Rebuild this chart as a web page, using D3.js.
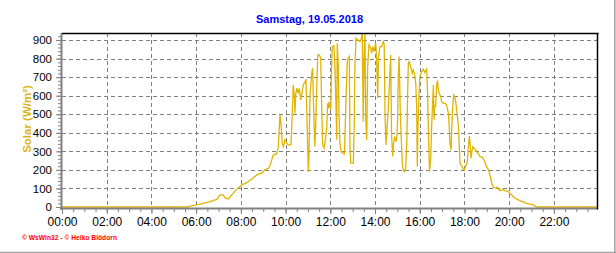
<!DOCTYPE html>
<html>
<head>
<meta charset="utf-8">
<script src="https://cdn.jsdelivr.net/npm/d3@7"></script>
<style>
  body { margin: 0; background: #fff; }
  svg { display: block; }
</style>
</head>
<body>
<div id="chart"></div>
<script>
var title = "Samstag, 19.05.2018";
var yLabel = "Solar (W/m²)";
var footer = "© WsWin32 - © Heiko Blödorn";
var hourTicks = [0, 2, 4, 6, 8, 10, 12, 14, 16, 18, 20, 22];
var hourLabels = ["00:00", "02:00", "04:00", "06:00", "08:00", "10:00", "12:00", "14:00", "16:00", "18:00", "20:00", "22:00"];
var yTicks = [0, 100, 200, 300, 400, 500, 600, 700, 800, 900];

// time of day in hours, solar radiation in W/m²
var times = [
  0, 5.68, 5.72, 5.95, 6.32, 6.62, 6.92, 7.07, 7.21, 7.29, 7.44, 7.59, 7.81,
  8.04, 8.26, 8.48, 8.71, 8.93, 9.08, 9.23, 9.30, 9.45, 9.60, 9.67, 9.75, 9.79, 9.85, 9.90, 9.97,
  10.05, 10.12, 10.24, 10.27, 10.32, 10.34, 10.39, 10.42, 10.45, 10.50, 10.57, 10.61, 10.68, 10.72, 10.79, 10.87, 10.91, 10.94, 10.99,
  11.02, 11.05, 11.09, 11.14, 11.18, 11.21, 11.24, 11.28, 11.31, 11.35, 11.39, 11.44, 11.51, 11.57, 11.61, 11.66, 11.72, 11.78, 11.84, 11.88, 11.93, 11.95,
  12.02, 12.06, 12.09, 12.16, 12.21, 12.25, 12.29, 12.31, 12.36, 12.39, 12.43, 12.48, 12.55, 12.63, 12.66, 12.70, 12.76, 12.85, 12.88, 12.92,
  13.03, 13.07, 13.10, 13.15, 13.22, 13.33, 13.37, 13.43, 13.47, 13.51, 13.55, 13.58, 13.63, 13.67, 13.73, 13.81, 13.85, 13.90, 13.95,
  14.03, 14.07, 14.12, 14.15, 14.22, 14.30, 14.37, 14.41, 14.45, 14.49, 14.53, 14.59, 14.64, 14.70, 14.74, 14.79, 14.83, 14.89, 14.94, 14.98,
  15.01, 15.04, 15.08, 15.13, 15.17, 15.22, 15.26, 15.31, 15.37, 15.42, 15.46, 15.49, 15.53, 15.61, 15.67, 15.71, 15.76, 15.82, 15.86, 15.89, 15.92, 15.97,
  16.01, 16.09, 16.16, 16.23, 16.31, 16.35, 16.40, 16.44, 16.49, 16.53, 16.58, 16.61, 16.64, 16.67, 16.71, 16.76, 16.80, 16.83, 16.87, 16.94, 16.98,
  17.05, 17.13, 17.20, 17.28, 17.32, 17.35, 17.40, 17.43, 17.47, 17.52, 17.56, 17.61, 17.65, 17.70, 17.74, 17.77, 17.80, 17.88, 17.95, 17.99,
  18.05, 18.13, 18.17, 18.22, 18.25, 18.29, 18.32, 18.37, 18.43, 18.52, 18.62, 18.69, 18.80, 18.89, 18.96,
  19.07, 19.14, 19.22, 19.29, 19.41, 19.47, 19.54, 19.59, 19.71, 19.81, 19.96,
  20.11, 20.26, 20.48, 20.78, 21.08, 21.23, 23.92
];
var solar = [
  0, 0, 5, 10, 20, 29, 41, 65, 65, 50, 43, 65, 95,
  119, 131, 150, 173, 182, 200, 209, 222, 281, 286, 317, 497, 460, 344, 325, 362,
  344, 335, 335, 416, 577, 658, 604, 506, 604, 640, 613, 640, 577, 604, 658, 676, 689, 558, 308,
  190, 298, 604, 676, 730, 748, 595, 433, 325, 452, 631, 820, 820, 802, 568, 335, 317, 362, 425, 558, 532, 568,
  523, 775, 865, 870, 748, 568, 362, 883, 748, 497, 344, 298, 290, 286, 406, 568, 793, 811, 308, 236,
  236, 452, 757, 910, 901, 892, 901, 934, 460, 811, 934, 497, 362, 757, 874, 856, 829, 865, 838,
  883, 802, 586, 802, 865, 865, 892, 874, 487, 335, 416, 523, 649, 820, 389, 272, 344, 379, 352, 379,
  470, 703, 811, 506, 379, 236, 200, 190, 209, 344, 622, 775, 784, 748, 721, 739, 721, 667, 550, 218, 433, 613,
  703, 730, 743, 725, 743, 613, 344, 190, 263, 425, 577, 658, 470, 550, 540, 667, 676, 631, 613, 595, 568,
  559, 559, 550, 506, 433, 344, 308, 416, 532, 604, 595, 568, 523, 470, 416, 325, 236, 221, 203, 200,
  218, 245, 317, 383, 344, 263, 290, 325, 317, 304, 286, 272, 268, 250, 227,
  200, 173, 128, 106, 101, 108, 92, 88, 95, 88, 83,
  65, 47, 34, 20, 11, 0, 0
];

var svgWidth = 616;
var svgHeight = 253;
var plot = { left: 62, right: 597.5, top: 33, bottom: 207 };
var lineColor = "#e0b400";
var gridColor = "#808080";

var svg = d3.select("#chart")
  .append("svg")
    .attr("width", svgWidth)
    .attr("height", svgHeight)
    .style("font-family", "'Liberation Sans', Arial, sans-serif");

var x = d3.scaleLinear()
  .domain([0, 23.95])
  .range([plot.left, plot.right]);
var y = d3.scaleLinear()
  .domain([0, 938])
  .range([plot.bottom, plot.top]);

var data = times.map((t, i) => ({ t: t, v: solar[i] }));

// grid
svg.append("g")
  .selectAll("line")
  .data(yTicks.filter(d => d > 0))
  .enter()
  .append("line")
    .attr("x1", plot.left)
    .attr("x2", plot.right)
    .attr("y1", d => Math.round(y(d)) + 0.5)
    .attr("y2", d => Math.round(y(d)) + 0.5)
    .attr("stroke", gridColor)
    .attr("stroke-dasharray", "4,3");
svg.append("g")
  .selectAll("line")
  .data(hourTicks.filter(d => d > 0))
  .enter()
  .append("line")
    .attr("x1", d => Math.round(x(d)) + 0.5)
    .attr("x2", d => Math.round(x(d)) + 0.5)
    .attr("y1", plot.top)
    .attr("y2", plot.bottom)
    .attr("stroke", gridColor)
    .attr("stroke-dasharray", "4,3");

// solar line
var line = d3.line()
  .x(d => x(d.t))
  .y(d => y(d.v));
svg.append("path")
  .datum(data)
  .attr("d", line)
  .attr("fill", "none")
  .attr("stroke", lineColor)
  .attr("stroke-width", 1.3);

// x axis: 30 min ticks, labels every 2 h
var minorX = d3.range(0, 24, 0.5);
var xMinor = d3.axisBottom(x).tickValues(minorX).tickFormat("").tickSizeInner(4).tickSizeOuter(0);
var xMajor = d3.axisBottom(x).tickValues(hourTicks)
  .tickFormat((d, i) => hourLabels[i]).tickSizeInner(6).tickSizeOuter(0).tickPadding(3);
var gxMinor = svg.append("g").attr("transform", "translate(0," + (plot.bottom + 1) + ")").call(xMinor);
var gxMajor = svg.append("g").attr("transform", "translate(0," + (plot.bottom + 1) + ")").call(xMajor);
gxMinor.select(".domain").remove();
gxMajor.select(".domain").remove();
svg.selectAll(".tick line").attr("stroke", gridColor);
gxMajor.selectAll("text")
  .attr("fill", "#000")
  .style("font-size", "12px");

// y axis: 20 W/m² minor ticks, labels every 100
var yMinor = d3.axisLeft(y).tickValues(d3.range(0, 940, 20)).tickFormat("").tickSizeInner(3).tickSizeOuter(0);
var yMajor = d3.axisLeft(y).tickValues(yTicks).tickSizeInner(5).tickSizeOuter(0).tickPadding(4);
var gyMinor = svg.append("g").attr("transform", "translate(" + (plot.left - 1) + ",0)").call(yMinor);
var gyMajor = svg.append("g").attr("transform", "translate(" + (plot.left - 1) + ",0)").call(yMajor);
gyMinor.select(".domain").remove();
gyMajor.select(".domain").remove();
svg.selectAll(".tick line").attr("stroke", gridColor);
gyMajor.selectAll("text")
  .attr("fill", "#000")
  .style("font-size", "11.5px");

// axis lines and frame
svg.append("line")
  .attr("x1", plot.left - 2).attr("x2", plot.right)
  .attr("y1", plot.bottom + 1.5).attr("y2", plot.bottom + 1.5)
  .attr("stroke", gridColor).attr("stroke-width", 2);
svg.append("line")
  .attr("x1", plot.left - 0.5).attr("x2", plot.left - 0.5)
  .attr("y1", plot.top).attr("y2", plot.bottom + 3)
  .attr("stroke", gridColor).attr("stroke-width", 2);
svg.append("line")
  .attr("x1", plot.left).attr("x2", plot.right + 1)
  .attr("y1", plot.top + 0.5).attr("y2", plot.top + 0.5)
  .attr("stroke", "#000").attr("stroke-width", 1.5);
svg.append("line")
  .attr("x1", plot.right).attr("x2", plot.right)
  .attr("y1", plot.top).attr("y2", plot.bottom + 2.5)
  .attr("stroke", "#000").attr("stroke-width", 1.5);
svg.append("line")
  .attr("x1", 0).attr("x2", svgWidth)
  .attr("y1", 252.5).attr("y2", 252.5)
  .attr("stroke", "#a0a0a0").attr("stroke-width", 1.5);
svg.append("line")
  .attr("x1", 614.8).attr("x2", 614.8)
  .attr("y1", 0).attr("y2", svgHeight)
  .attr("stroke", "#a0a0a0").attr("stroke-width", 1.5);

// texts
svg.append("text")
  .attr("x", 309.5)
  .attr("y", 22.7)
  .attr("text-anchor", "middle")
  .attr("fill", "#0000ff")
  .style("font-size", "11px")
  .style("font-weight", "bold")
  .text(title);
svg.append("text")
  .attr("transform", "translate(31,119) rotate(-90)")
  .attr("text-anchor", "middle")
  .attr("fill", "#dcb414")
  .style("font-size", "11.5px")
  .style("font-weight", "bold")
  .text(yLabel);
svg.append("text")
  .attr("x", 22)
  .attr("y", 240)
  .attr("fill", "#ff0000")
  .attr("textLength", 95)
  .attr("lengthAdjust", "spacingAndGlyphs")
  .style("font-size", "7.5px")
  .style("font-weight", "bold")
  .text(footer);
</script>
</body>
</html>
